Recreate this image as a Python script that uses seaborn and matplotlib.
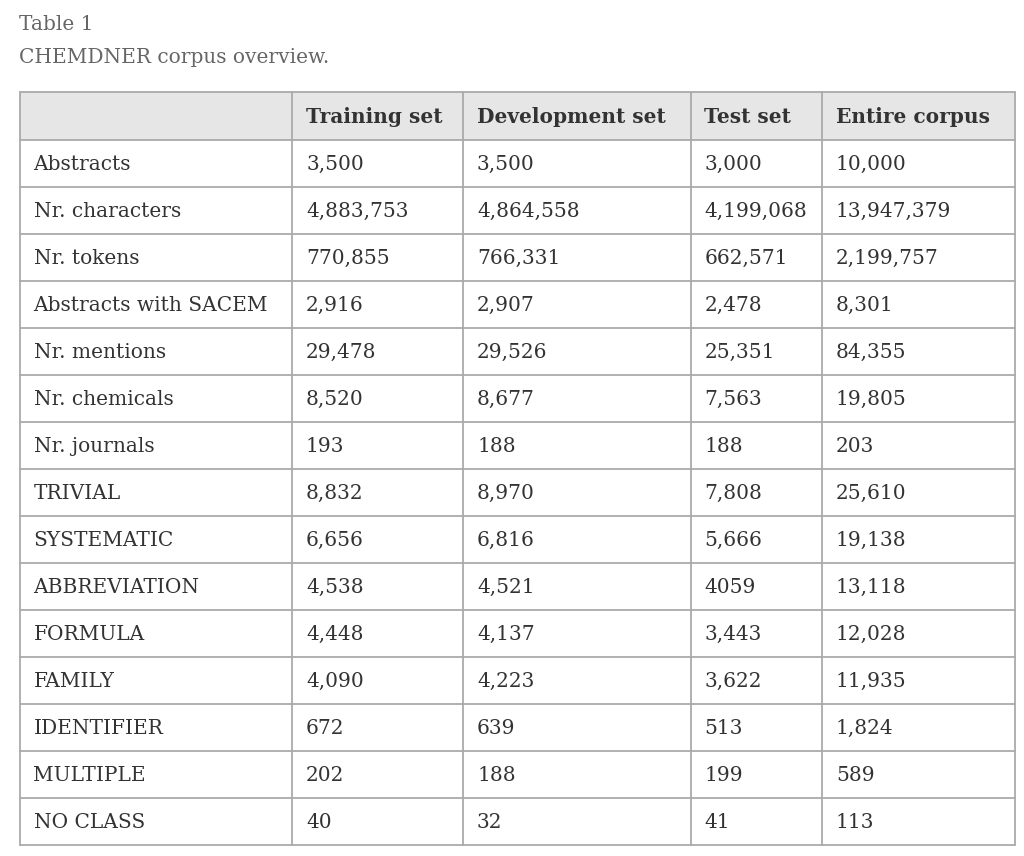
import matplotlib.pyplot as plt
import seaborn as sns
from matplotlib.patches import Rectangle

# data
columns = ["Training set", "Development set", "Test set", "Entire corpus"]
row_labels = ["Abstracts", "Nr. characters", "Nr. tokens", "Abstracts with SACEM",
              "Nr. mentions", "Nr. chemicals", "Nr. journals", "TRIVIAL", "SYSTEMATIC",
              "ABBREVIATION", "FORMULA", "FAMILY", "IDENTIFIER", "MULTIPLE", "NO CLASS"]
training = ["3,500", "4,883,753", "770,855", "2,916", "29,478", "8,520", "193", "8,832",
            "6,656", "4,538", "4,448", "4,090", "672", "202", "40"]
development = ["3,500", "4,864,558", "766,331", "2,907", "29,526", "8,677", "188", "8,970",
               "6,816", "4,521", "4,137", "4,223", "639", "188", "32"]
test = ["3,000", "4,199,068", "662,571", "2,478", "25,351", "7,563", "188", "7,808",
        "5,666", "4059", "3,443", "3,622", "513", "199", "41"]
entire = ["10,000", "13,947,379", "2,199,757", "8,301", "84,355", "19,805", "203", "25,610",
          "19,138", "13,118", "12,028", "11,935", "1,824", "589", "113"]

sns.set_theme(style="white")
plt.rcParams['font.family'] = ['DejaVu Serif']

# layout (pixels)
col_edges = [19.5, 292, 463, 690.5, 822, 1015]
top = 92
header_h = 48
row_h = 47
pad = 14
fs = 14.5
border = "#aaaaaa"
text_col = "#333333"

fig = plt.figure(figsize=(10.24, 8.56), dpi=100)
ax = fig.add_axes([0, 0, 1, 1])
ax.set_xlim(0, 1024)
ax.set_ylim(856, 0)
ax.axis("off")

ax.text(19, 24, "Table 1", fontsize=fs, color="#666666", va="center", ha="left")
ax.text(19, 57, "CHEMDNER corpus overview.", fontsize=fs, color="#666666", va="center", ha="left")

n_rows = len(row_labels)
bottom = top + header_h + n_rows * row_h

# header background
ax.add_patch(Rectangle((col_edges[0], top), col_edges[-1] - col_edges[0], header_h,
                       facecolor="#e6e6e6", edgecolor="none", zorder=0))

# header text
for j, name in enumerate(columns):
    ax.text(col_edges[j + 1] + pad, top + header_h / 2 + 1, name, fontsize=fs,
            fontweight="bold", color=text_col, va="center", ha="left")

# body
cols = [row_labels, training, development, test, entire]
for i in range(n_rows):
    yc = top + header_h + i * row_h + row_h / 2 + 1
    for j, values in enumerate(cols):
        ax.text(col_edges[j] + pad, yc, values[i], fontsize=fs, color=text_col,
                va="center", ha="left")

# grid lines
ys = [top, top + header_h] + [top + header_h + (i + 1) * row_h for i in range(n_rows)]
for y in ys:
    ax.plot([col_edges[0], col_edges[-1]], [y, y], color=border, lw=1.3, zorder=2)
for x in col_edges:
    ax.plot([x, x], [top, bottom], color=border, lw=1.3, zorder=2)

fig.savefig("out.png", dpi=100, facecolor="white")
